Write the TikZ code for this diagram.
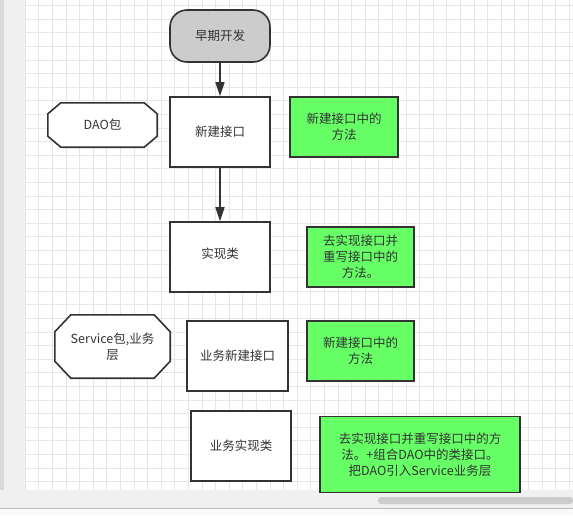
\documentclass[tikz,border=0pt]{standalone}
\usepackage{fontspec}
\setmainfont{Noto Sans CJK SC}
\usetikzlibrary{arrows.meta}

\definecolor{gridline}{HTML}{E6E6E6}
\definecolor{panel}{HTML}{F0F0F0}
\definecolor{ink}{HTML}{333333}
\definecolor{notegreen}{HTML}{66FF66}
\definecolor{startgrey}{HTML}{CCCCCC}

\tikzset{
  every node/.style={font=\fontsize{12.5}{16}\selectfont, text=ink, align=center},
  flowbox/.style={draw=ink, line width=1.6pt, fill=white, inner sep=0pt},
  notebox/.style={flowbox, fill=notegreen},
  startbox/.style={flowbox, fill=startgrey, rounded corners=17pt},
  pkgline/.style={draw=ink, line width=1.6pt, fill=white},
  flowarrow/.style={draw=ink, line width=1.6pt, -{Triangle[length=14pt,width=9pt]}}
}

\newcommand{\pkgoutline}[3]{% node, chamfer x, chamfer y
  \draw[pkgline] ([xshift=#2]#1.north west) -- ([xshift=-#2]#1.north east)
    -- ([yshift=-#3]#1.north east) -- ([yshift=#3]#1.south east)
    -- ([xshift=-#2]#1.south east) -- ([xshift=#2]#1.south west)
    -- ([yshift=#3]#1.south west) -- ([yshift=-#3]#1.north west) -- cycle;}

\begin{document}
\begin{tikzpicture}[x=1pt, y=-1pt]

    \useasboundingbox (0,0) rectangle (573,515);

    % editor background
    \fill[white] (0,0) rectangle (573,515);
    \fill[panel] (0,0) rectangle (25,492);
    \fill[gray!30] (0,0) rectangle (4,492);
    \fill[panel] (0,490) rectangle (573,508);
    \draw[gray!55] (0,508) -- (573,508);
    \fill[gray!5] (0,508.5) rectangle (573,515);
    \fill[gray!40, rounded corners=3pt] (378,497) rectangle (573,504);
    \foreach \x in {25,38.6,...,573}
    \draw[gridline, line width=0.6pt] (\x,0) -- (\x,490);
    \foreach \y in {5.5,19.1,...,490}
    \draw[gridline, line width=0.6pt] (25,\y) -- (573,\y);

    \node[startbox, minimum width=100pt, minimum height=52pt] (start) at (220,36) {早期开发};

    \node[flowbox, minimum width=100pt, minimum height=70pt] (iface) at (220,132) {新建接口};
    \node[flowbox, minimum width=100pt, minimum height=70pt] (impl) at (220,257) {\raisebox{7pt}{实现类}};
    \node[flowbox, minimum width=101pt, minimum height=70pt] (svciface) at (237.5,356) {业务新建接口};
    \node[flowbox, minimum width=100pt, minimum height=70pt] (svcimpl) at (241,446) {业务实现类};

    % package labels
    \node[minimum width=109pt, minimum height=44pt, inner sep=0pt] (dao) at (102.5,125) {};
    \pkgoutline{dao}{13pt}{11pt}
    \node at (dao) {DAO包};
    \node[minimum width=115pt, minimum height=63pt, inner sep=0pt] (service) at (112.5,346.5) {};
    \pkgoutline{service}{16pt}{17pt}
    \node at (service) {Service包,业务\\层};

    \node[notebox, minimum width=108pt, minimum height=60pt] (ifacenote) at (344,127) {新建接口中的\\方法};
    \node[notebox, minimum width=107pt, minimum height=60pt] (implnote) at (360.5,257) {去实现接口并\\重写接口中的\\方法。};
    \node[notebox, minimum width=107pt, minimum height=60pt] (svcifacenote) at (360.5,351) {新建接口中的\\方法};
    \node[notebox, minimum width=200pt, minimum height=76pt] (svcimplnote) at (420,454.5) {去实现接口并重写接口中的方\\法。+组合DAO中的类接口。\\把DAO引入Service业务层};

    \draw[flowarrow] (start) -- (iface);
    \draw[flowarrow] (iface) -- (impl);

\end{tikzpicture}
\end{document}
